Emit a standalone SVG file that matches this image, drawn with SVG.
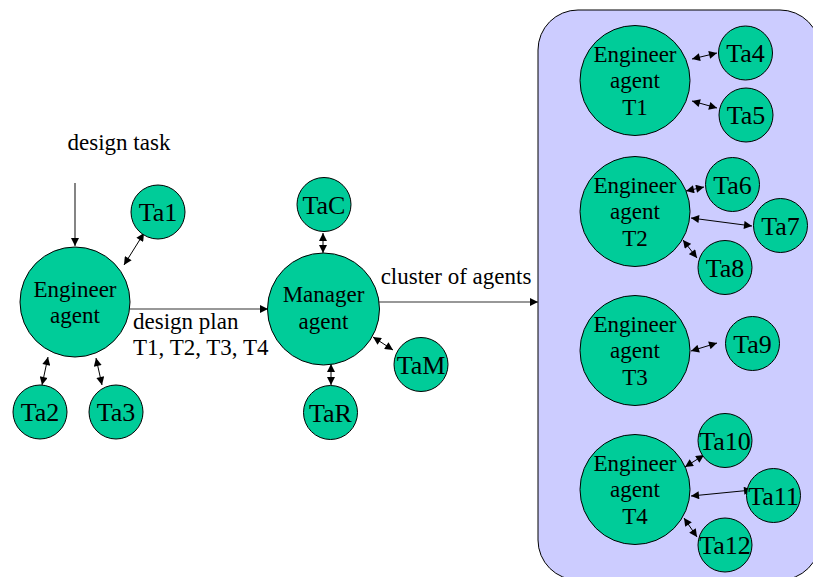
<svg xmlns="http://www.w3.org/2000/svg" width="813" height="577" viewBox="0 0 813 577" font-family="'Liberation Serif', 'Times New Roman', Times, serif">
  <style>
    .agent { fill: #00CC99; stroke: #000; stroke-width: 1; }
    text { font-family: 'Liberation Serif', 'Times New Roman', Times, serif; fill: #000; }
    .lbl { font-size: 23px; }
    .big { font-size: 23px; text-anchor: middle; }
    .ta { font-size: 26px; text-anchor: middle; }
    .flow { stroke: #333; stroke-width: 1.2; fill: none; marker-end: url(#arrow); }
    .link { stroke: #000; stroke-width: 1; fill: none; marker-start: url(#arrow); marker-end: url(#arrow); }
  </style>
  <defs>
    <marker id="arrow" viewBox="0 0 10 10" refX="10" refY="5" markerWidth="9" markerHeight="8" markerUnits="userSpaceOnUse" orient="auto-start-reverse">
      <path d="M0,0 L10,5 L0,10 z" fill="#000"/>
    </marker>
  </defs>

  <rect width="813" height="577" fill="#fff"/>

  <!-- cluster panel -->
  <rect id="cluster" x="538" y="10" width="282" height="570" rx="40" ry="40" fill="#CCCCFF" stroke="#000" stroke-width="1"/>

  <!-- connectors -->
  <g id="connectors">
    <line class="flow" x1="75" y1="183" x2="75" y2="246"/>
    <line class="flow" x1="130" y1="309" x2="268" y2="309"/>
    <line class="flow" x1="379" y1="302" x2="538" y2="302"/>

    <line class="link" x1="124" y1="265" x2="144" y2="233"/>
    <line class="link" x1="48" y1="357" x2="42" y2="385"/>
    <line class="link" x1="96" y1="358" x2="102" y2="385"/>

    <line class="link" x1="323" y1="233" x2="323" y2="253"/>
    <line class="link" x1="373" y1="337" x2="393" y2="350"/>
    <line class="link" x1="331" y1="364" x2="331" y2="385"/>

    <line class="link" x1="692" y1="59" x2="717" y2="53"/>
    <line class="link" x1="692" y1="101" x2="717" y2="108"/>

    <line class="link" x1="686" y1="191" x2="704" y2="187"/>
    <line class="link" x1="691" y1="218" x2="752" y2="226"/>
    <line class="link" x1="683" y1="240" x2="697" y2="258"/>

    <line class="link" x1="691" y1="351" x2="717" y2="343"/>

    <line class="link" x1="685" y1="467" x2="704" y2="455"/>
    <line class="link" x1="691" y1="496" x2="752" y2="490"/>
    <line class="link" x1="684" y1="518" x2="697" y2="537"/>
  </g>

  <!-- free labels -->
  <text class="big" x="119" y="150">design task</text>
  <text class="lbl" x="133" y="329">design plan</text>
  <text class="lbl" x="133" y="355">T1, T2, T3, T4</text>
  <text class="big" x="456" y="284">cluster of agents</text>

  <!-- engineer agent -->
  <g id="engineer">
    <circle class="agent" cx="75" cy="302" r="55"/>
    <text class="big" x="75" y="297">Engineer</text>
    <text class="big" x="75" y="323">agent</text>
  </g>
  <g id="ta1"><circle class="agent" cx="158" cy="212" r="27"/><text class="ta" x="158" y="221">Ta1</text></g>
  <g id="ta2"><circle class="agent" cx="40" cy="412" r="27"/><text class="ta" x="40" y="421">Ta2</text></g>
  <g id="ta3"><circle class="agent" cx="116" cy="412" r="27"/><text class="ta" x="116" y="421">Ta3</text></g>

  <!-- manager agent -->
  <g id="manager">
    <circle class="agent" cx="323.5" cy="309" r="56"/>
    <text class="big" x="323.5" y="302">Manager</text>
    <text class="big" x="323.5" y="329">agent</text>
  </g>
  <g id="tac"><circle class="agent" cx="324" cy="204.5" r="27"/><text class="ta" x="324" y="213.5">TaC</text></g>
  <g id="tam"><circle class="agent" cx="421" cy="364.5" r="27"/><text class="ta" x="421" y="373.5">TaM</text></g>
  <g id="tar"><circle class="agent" cx="330.5" cy="412.5" r="27"/><text class="ta" x="330.5" y="421.5">TaR</text></g>

  <!-- engineer T1 -->
  <g id="engineer-t1">
    <circle class="agent" cx="635" cy="80.5" r="55"/>
    <text class="big" x="635" y="62">Engineer</text>
    <text class="big" x="635" y="88">agent</text>
    <text class="big" x="635" y="115">T1</text>
  </g>
  <g id="ta4"><circle class="agent" cx="745.5" cy="53" r="27"/><text class="ta" x="745.5" y="62">Ta4</text></g>
  <g id="ta5"><circle class="agent" cx="746" cy="115" r="27"/><text class="ta" x="746" y="124">Ta5</text></g>

  <!-- engineer T2 -->
  <g id="engineer-t2">
    <circle class="agent" cx="635" cy="211.5" r="55"/>
    <text class="big" x="635" y="193">Engineer</text>
    <text class="big" x="635" y="219">agent</text>
    <text class="big" x="635" y="246">T2</text>
  </g>
  <g id="ta6"><circle class="agent" cx="732.5" cy="184.5" r="27"/><text class="ta" x="732.5" y="193.5">Ta6</text></g>
  <g id="ta7"><circle class="agent" cx="780.5" cy="225.5" r="27"/><text class="ta" x="780.5" y="234.5">Ta7</text></g>
  <g id="ta8"><circle class="agent" cx="725" cy="267.5" r="27"/><text class="ta" x="725" y="276.5">Ta8</text></g>

  <!-- engineer T3 -->
  <g id="engineer-t3">
    <circle class="agent" cx="635" cy="350.5" r="55"/>
    <text class="big" x="635" y="332">Engineer</text>
    <text class="big" x="635" y="358">agent</text>
    <text class="big" x="635" y="385">T3</text>
  </g>
  <g id="ta9"><circle class="agent" cx="752.5" cy="343.5" r="27"/><text class="ta" x="752.5" y="352.5">Ta9</text></g>

  <!-- engineer T4 -->
  <g id="engineer-t4">
    <circle class="agent" cx="635" cy="489.5" r="55"/>
    <text class="big" x="635" y="471">Engineer</text>
    <text class="big" x="635" y="497">agent</text>
    <text class="big" x="635" y="524">T4</text>
  </g>
  <g id="ta10"><circle class="agent" cx="725" cy="440.5" r="27"/><text class="ta" x="725" y="449.5">Ta10</text></g>
  <g id="ta11"><circle class="agent" cx="773.5" cy="495.5" r="27"/><text class="ta" x="773.5" y="504.5">Ta11</text></g>
  <g id="ta12"><circle class="agent" cx="725" cy="545" r="27"/><text class="ta" x="725" y="554">Ta12</text></g>
</svg>
